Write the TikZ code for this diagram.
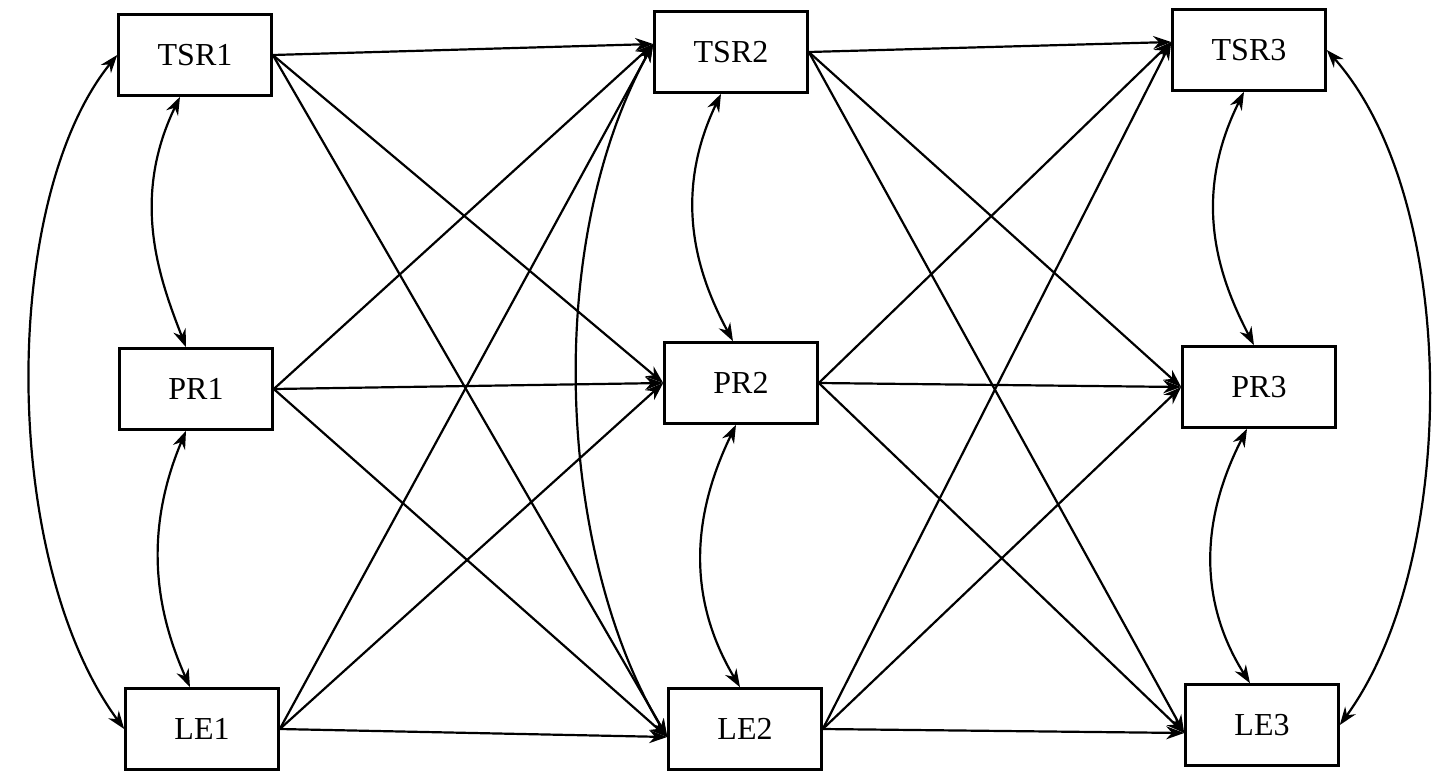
\documentclass[tikz,border=0pt]{standalone}
\usepackage{fontspec}
\setmainfont{Liberation Serif}
\usetikzlibrary{arrows.meta}
\begin{document}
\begin{tikzpicture}[x=1pt,y=-1pt,
 box/.style={draw,line width=2.6pt,minimum width=153pt,minimum height=81pt,font=\fontsize{32}{36}\selectfont},
 arr/.style={line width=2.2pt,-{Stealth[length=18pt,width=13pt]}},
 darr/.style={line width=2.2pt,{Stealth[length=18pt,width=13pt]}-{Stealth[length=18pt,width=13pt]}}]
\useasboundingbox (0,0) rectangle (1441,777);
\node[box] (T1) at (195,55) {TSR1};
\node[box] (P1) at (196,389) {PR1};
\node[box] (L1) at (202,729) {LE1};
\node[box] (T2) at (731,52) {TSR2};
\node[box] (P2) at (741,383) {PR2};
\node[box] (L2) at (745,729) {LE2};
\node[box] (T3) at (1249,50) {TSR3};
\node[box] (P3) at (1259,387) {PR3};
\node[box] (L3) at (1262,725) {LE3};
\foreach \s in {T1,P1,L1}{
 \draw[arr] (\s.east) -- ([yshift=8pt]T2.west);
 \draw[arr] (\s.east) -- (P2.west);
 \draw[arr] (\s.east) -- ([yshift=-8pt]L2.west);
}
\foreach \s in {T2,P2,L2}{
 \draw[arr] (\s.east) -- ([yshift=8pt]T3.west);
 \draw[arr] (\s.east) -- (P3.west);
 \draw[arr] (\s.east) -- ([yshift=-8pt]L3.west);
}
\draw[darr] ([xshift=-15pt]T1.south) .. controls (130,200) and (160,280) .. ([xshift=-10pt]P1.north);
\draw[darr] ([xshift=-10pt]P1.south) .. controls (140,540) and (160,620) .. ([xshift=-12pt]L1.north);
\draw[darr] ([xshift=-10pt]T2.south) .. controls (670,200) and (700,280) .. ([xshift=-8pt]P2.north);
\draw[darr] ([xshift=-5pt]P2.south) .. controls (680,540) and (700,620) .. ([xshift=-5pt]L2.north);
\draw[darr] ([xshift=-5pt]T3.south) .. controls (1190,200) and (1220,280) .. ([xshift=-5pt]P3.north);
\draw[darr] ([xshift=-12pt]P3.south) .. controls (1190,540) and (1210,620) .. ([xshift=-12pt]L3.north);
\draw[darr] (T1.west) .. controls (0,200) and (0,560) .. (L1.west);
\draw[darr] (T3.east) .. controls (1460,200) and (1460,560) .. (L3.east);
\draw[darr] ([yshift=8pt]T2.west) .. controls (540,250) and (560,560) .. ([yshift=-8pt]L2.west);
\end{tikzpicture}
\end{document}
